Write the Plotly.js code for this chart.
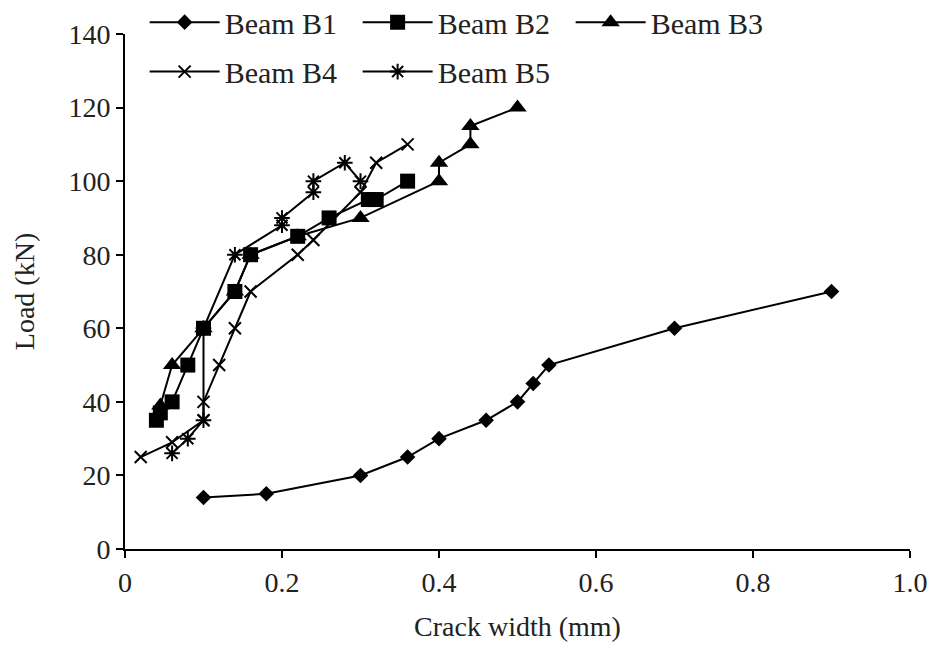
<!DOCTYPE html>
<html><head><meta charset="utf-8">
<script src="https://cdn.plot.ly/plotly-3.0.1.min.js"></script>
<style>html,body{margin:0;padding:0;background:#fff}#chart{width:930px;height:647px}</style>
</head><body><div id="chart"></div>
<script>
// Beam B1
const b1X = [0.10, 0.18, 0.30, 0.36, 0.40, 0.46, 0.50, 0.52, 0.54, 0.70, 0.90];
const b1Y = [14, 15, 20, 25, 30, 35, 40, 45, 50, 60, 70];
// Beam B2
const b2X = [0.04, 0.045, 0.06, 0.08, 0.10, 0.14, 0.16, 0.22, 0.26, 0.31, 0.32, 0.36];
const b2Y = [35, 37, 40, 50, 60, 70, 80, 85, 90, 95, 95, 100];
// Beam B3
const b3X = [0.045, 0.06, 0.10, 0.14, 0.16, 0.22, 0.30, 0.40, 0.40, 0.44, 0.44, 0.50];
const b3Y = [39, 50, 60, 70, 80, 85, 90, 100, 105, 110, 115, 120];
// Beam B4
const b4X = [0.02, 0.06, 0.10, 0.10, 0.12, 0.14, 0.16, 0.22, 0.24, 0.30, 0.32, 0.36];
const b4Y = [25, 29, 35, 40, 50, 60, 70, 80, 84, 97, 105, 110];
// Beam B5
const b5X = [0.06, 0.08, 0.10, 0.10, 0.14, 0.20, 0.20, 0.24, 0.24, 0.28, 0.30];
const b5Y = [26, 30, 35, 60, 80, 88, 90, 97, 100, 105, 100];

const xTicks = [0, 0.2, 0.4, 0.6, 0.8, 1.0];
const xTickText = ["0", "0.2", "0.4", "0.6", "0.8", "1.0"];
const yTicks = [0, 20, 40, 60, 80, 100, 120, 140];

const FONT = "Liberation Serif";
const FS = 28;
const line = {color: "#000", width: 2};

function tr(name, x, y, marker, legend, rank) {
  return {type: "scatter", mode: "lines+markers", name: name, x: x, y: y,
    line: line, marker: Object.assign({color: "#000"}, marker), legend: legend, legendrank: rank};
}

const data = [
  tr("Beam B1", b1X, b1Y, {symbol: "diamond", size: 12}, "legend", 1),
  tr("Beam B3", b3X, b3Y, {symbol: "triangle-up", size: 16}, "legend", 3),
  tr("Beam B2", b2X, b2Y, {symbol: "square", size: 15}, "legend", 2),
  tr("Beam B4", b4X, b4Y, {symbol: "x-thin-open", size: 12, line: {color: "#000", width: 2}}, "legend2", 4),
  tr("Beam B5", b5X, b5Y, {symbol: "asterisk-open", size: 13, line: {color: "#000", width: 2}}, "legend2", 5)
];

const legCommon = {orientation: "h", xanchor: "left", yanchor: "middle", yref: "paper",
  entrywidth: 128, entrywidthmode: "pixels", itemwidth: 70,
  font: {family: FONT, size: 30, color: "#222"}, bgcolor: "rgba(0,0,0,0)"};

const layout = {
  width: 930, height: 647,
  margin: {l: 125, r: 20, t: 34, b: 98, autoexpand: false},
  paper_bgcolor: "#fff", plot_bgcolor: "#fff",
  font: {family: FONT, size: FS, color: "#222"},
  showlegend: true,
  legend: Object.assign({}, legCommon, {x: 0.025, y: 1.023}),
  legend2: Object.assign({}, legCommon, {x: 0.025, y: 0.927}),
  xaxis: {range: [0, 1.0], tickvals: xTicks, ticktext: xTickText,
    showgrid: false, zeroline: false, showline: true, linecolor: "#000", linewidth: 2,
    ticks: "outside", ticklen: 7, tickwidth: 2, tickcolor: "#000",
    tickfont: {family: FONT, size: FS, color: "#222"},
    title: {text: "Crack width (mm)", font: {family: FONT, size: FS, color: "#222"}, standoff: 20}},
  yaxis: {range: [0, 140], tickvals: yTicks,
    showgrid: false, zeroline: false, showline: true, linecolor: "#000", linewidth: 2,
    ticks: "outside", ticklen: 7, tickwidth: 2, tickcolor: "#000",
    tickfont: {family: FONT, size: FS, color: "#222"},
    title: {text: "Load (kN)", font: {family: FONT, size: FS, color: "#222"}, standoff: 26}}
};

Plotly.newPlot("chart", data, layout, {displayModeBar: false, staticPlot: true});
</script></body></html>
